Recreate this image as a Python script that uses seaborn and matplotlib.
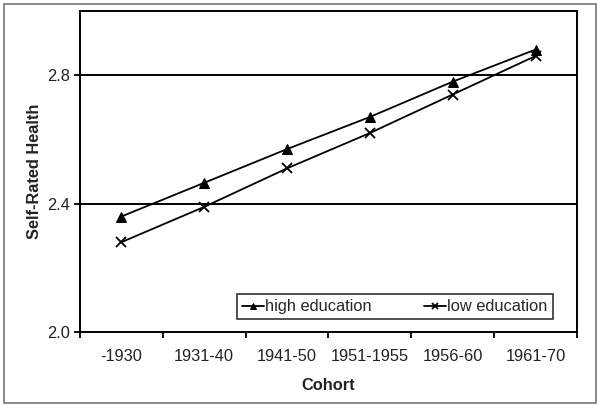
import matplotlib.pyplot as plt
import seaborn as sns
from matplotlib.patches import Rectangle

cohorts = ["-1930", "1931-40", "1941-50", "1951-1955", "1956-60", "1961-70"]
high_edu = [2.36, 2.465, 2.57, 2.67, 2.78, 2.88]
low_edu = [2.28, 2.39, 2.51, 2.62, 2.74, 2.86]

sns.set_theme(style="white")
plt.rcParams["font.family"] = ["Liberation Sans", "DejaVu Sans"]

fig, ax = plt.subplots(figsize=(6.01, 4.08), dpi=100)
fig.subplots_adjust(left=0.133, right=0.96, top=0.973, bottom=0.186)

pos = list(range(len(cohorts)))
sns.lineplot(x=pos, y=high_edu, color="black", marker="^", markersize=7,
             markeredgecolor="black", linewidth=1.3, label="high education", ax=ax)
sns.lineplot(x=pos, y=low_edu, color="black", marker="x", markersize=7,
             markeredgecolor="black", markeredgewidth=1.3, linewidth=1.3,
             label="low education", ax=ax)

ax.set_ylim(2.0, 3.0)
ax.set_yticks([2.0, 2.4, 2.8])
ax.set_yticklabels(["2.0", "2.4", "2.8"])
for yv in [2.4, 2.8]:
    ax.axhline(yv, color="black", lw=1.4, zorder=0)

ax.set_xlim(-0.5, len(cohorts) - 0.5)
ax.set_xticks(pos)
ax.set_xticklabels(cohorts)
ax.set_xticks([i - 0.5 for i in range(len(cohorts) + 1)], minor=True)
ax.tick_params(axis="x", which="major", length=0, pad=12, labelsize=11.8, colors="#222222")
ax.tick_params(axis="x", which="minor", length=4, width=1.3, direction="out", color="black", bottom=True)
ax.tick_params(axis="y", length=4, width=1.3, direction="out", color="black", left=True,
               labelsize=11.8, labelcolor="#222222")

for s in ax.spines.values():
    s.set_color("black")
    s.set_linewidth(1.4)

ax.set_xlabel("Cohort", fontweight="bold", fontsize=11.8, labelpad=10, color="#222222")
ax.set_ylabel("Self-Rated Health", fontweight="bold", fontsize=11.8, labelpad=3, color="#222222")

leg = ax.legend(loc="lower right", bbox_to_anchor=(0.951, 0.04), ncol=2, frameon=True,
                fancybox=False, handlelength=1.3, handletextpad=0.1, columnspacing=3.2,
                fontsize=11.8, borderpad=0.3, borderaxespad=0.0, markerscale=0.7)
leg.get_frame().set_edgecolor("black")
leg.get_frame().set_linewidth(1.2)

fig.patches.append(Rectangle((0.007, 0.012), 0.985, 0.978, transform=fig.transFigure,
                             fill=False, edgecolor="#777777", linewidth=1.2))

plt.savefig("out.png", dpi=100)
